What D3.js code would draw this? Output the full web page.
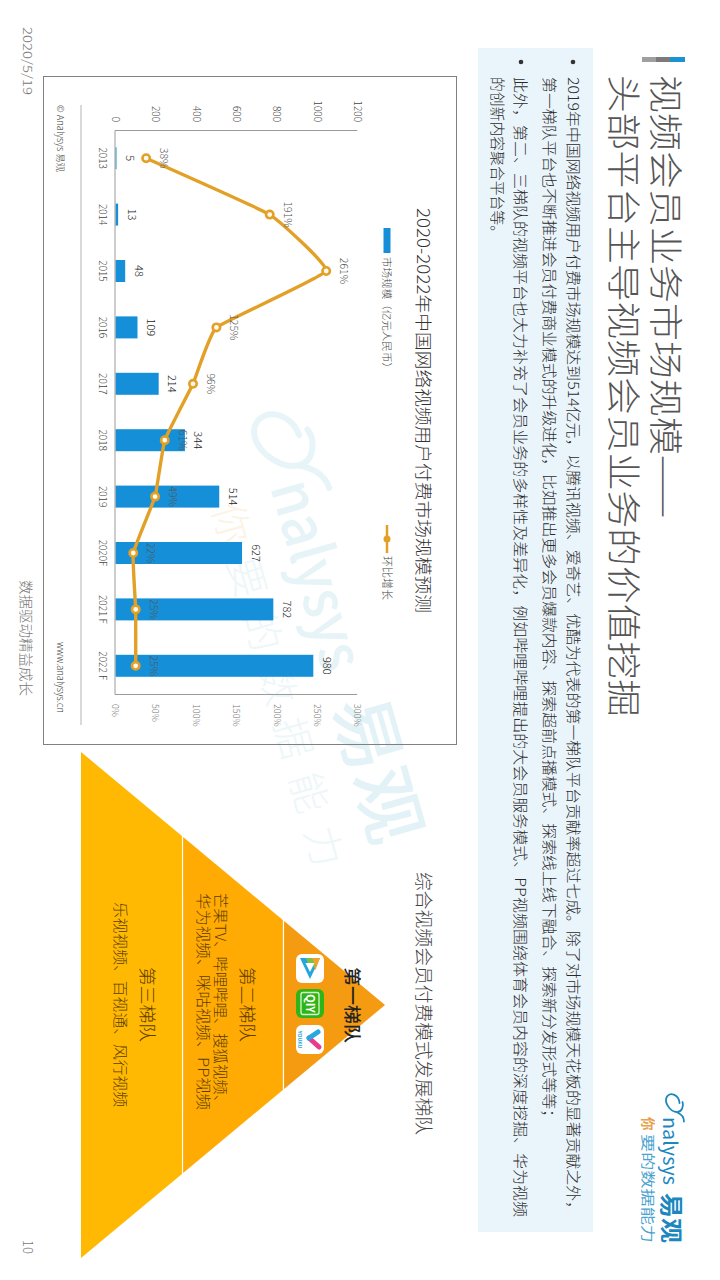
<!DOCTYPE html>
<html><head><meta charset="utf-8">
<script src="https://cdn.jsdelivr.net/npm/d3@7"></script>
<style>html,body{margin:0;padding:0;background:#fff}svg{display:block}
text{font-family:"Noto Sans CJK SC","Noto Sans",sans-serif;font-weight:300}</style>
</head><body><svg id="c" width="720" height="1280"></svg>
<script>
const categories=["2013","2014","2015","2016","2017","2018","2019","2020F","2021 F","2022 F"];
const marketSize=[5,13,48,109,214,344,514,627,782,980];
const growthPct=[38,191,261,125,96,61,49,22,25,25];
const growthLabels=["38%","191%","261%","125%","96%","61%","49%","22%","25%","25%"];
const leftTicks=[0,200,400,600,800,1000,1200];
const rightTicks=[0,50,100,150,200,250,300];
const titleLines=["视频会员业务市场规模——","头部平台主导视频会员业务的价值挖掘"];
const bulletLines=[
"2019年中国网络视频用户付费市场规模达到514亿元，以腾讯视频、爱奇艺、优酷为代表的第一梯队平台贡献率超过七成。除了对市场规模天花板的显著贡献之外，",
"第一梯队平台也不断推进会员付费商业模式的升级进化，比如推出更多会员爆款内容、探索超前点播模式、探索线上线下融合、探索新分发形式等等；",
"此外，第二、三梯队的视频平台也大力补充了会员业务的多样性及差异化，例如哔哩哔哩提出的大会员服务模式、PP视频围绕体育会员内容的深度挖掘、华为视频",
"的创新内容聚合平台等。"];
const tierNames=["第一梯队","第二梯队","第三梯队"];
const tierColors=["#f59b12","#ffab03","#ffb902"];

const svg=d3.select("#c");
const root=svg.append("g").attr("transform","translate(720,0) rotate(90)");
function T(g,x,y,s,size,fill,opt={}){
  const t=g.append("text").attr("x",x).attr("y",y).attr("font-size",size).attr("fill",fill).text(s);
  if(opt.anchor)t.attr("text-anchor",opt.anchor);
  if(opt.len)t.attr("textLength",opt.len).attr("lengthAdjust","spacingAndGlyphs");
  if(opt.weight)t.style("font-weight",opt.weight);
  return t;
}
function swoosh(g,cx,cy,s,col,sw,rot){
  g.append("path").attr("transform",`translate(${cx},${cy}) rotate(${rot}) scale(${s})`)
   .attr("d","M-0.1,-0.55 C-0.9,-0.5 -1.25,0.35 -0.75,0.7 C-0.2,1.05 0.75,0.4 0.8,-0.25 C0.85,-0.8 0.2,-1.0 -0.2,-0.85 M0.8,-0.25 C1.05,-0.85 1.5,-1.0 1.75,-1.0")
   .attr("fill","none").attr("stroke",col).attr("stroke-width",sw/s).attr("stroke-linecap","round");
}
/* accent + title */
root.append("rect").attr("x",57).attr("y",35).attr("width",5).attr("height",15).attr("fill","#1c92d2");
root.append("rect").attr("x",57).attr("y",50).attr("width",5).attr("height",14).attr("fill","#7b7b7b");
root.append("rect").attr("x",57).attr("y",64).attr("width",5).attr("height",14).attr("fill","#9f9f9f");
T(root,75,67,titleLines[0],34.5,"#555",{len:443});
T(root,75,109,titleLines[1],34.5,"#555",{len:642});
/* panel */
root.append("rect").attr("x",48).attr("y",127).attr("width",1184).attr("height",115).attr("fill","#eaf5fb");
[147,199].forEach(v=>root.append("circle").attr("cx",62).attr("cy",v).attr("r",2.3).attr("fill","#333"));
const lineV=[152,176,205,228], lineU=[[77,1217],[77,1125],[77,1217],[77,240]];
bulletLines.forEach((s,i)=>T(root,lineU[i][0],lineV[i],s,14.5,"#2a2a2a",{len:lineU[i][1]-lineU[i][0]}));

/* watermark */
const wm=root.append("g");
swoosh(wm,443,437,32,"#e8f5f8",6,-16);
T(wm,0,0,"nalysys",60,"#e6f3f7",{len:195,weight:500}).attr("transform","translate(487,450) rotate(-16)");
T(wm,0,0,"易观",70,"#e3f2f6",{weight:500,len:150}).attr("transform","translate(704,387) rotate(-16)");
const tag=T(wm,0,0,"",40,"#edf6f9",{}).attr("transform","translate(508,508) rotate(-16)");
tag.append("tspan").attr("fill","#fcf3e6").text("你");
tag.append("tspan").text("要的数据能力");
tag.attr("textLength",376).attr("lengthAdjust","spacing");

/* chart frame */
root.append("rect").attr("x",76.5).attr("y",263.5).attr("width",668).attr("height",413).attr("fill","none").attr("stroke","#808080");
T(root,208,303,"2020-2022年中国网络视频用户付费市场规模预测",17,"#333",{len:405});

const x=d3.scaleBand().domain(categories).range([130,694]).paddingInner(0.61).paddingOuter(0.305);
const yL=d3.scaleLinear().domain([0,1200]).range([604.5,362.3]);
const yR=d3.scaleLinear().domain([0,300]).range([604.5,362.3]);
const chart=root.append("g");
chart.selectAll("rect.b").data(marketSize).join("rect").attr("class","b")
 .attr("x",(d,i)=>x(categories[i])).attr("width",x.bandwidth())
 .attr("y",d=>yL(d)).attr("height",d=>yL(0)-yL(d)).attr("fill","#1590d8");
const axL=chart.append("g").attr("transform","translate(130,0)").call(d3.axisLeft(yL).tickValues(leftTicks).tickFormat(d3.format("d")).tickSize(0).tickPadding(8));
const axR=chart.append("g").attr("transform","translate(694,0)").call(d3.axisRight(yR).tickValues(rightTicks).tickFormat(d=>d+"%").tickSize(0).tickPadding(10));
const axB=chart.append("g").attr("transform","translate(0,604.5)").call(d3.axisBottom(x).tickSize(0).tickPadding(9));
[axL,axR,axB].forEach(a=>{a.select(".domain").attr("stroke","#9a9a9a").attr("stroke-width",1);});
axL.selectAll("text").attr("font-size",10).attr("fill","#444").style("font-family",'"Noto Sans CJK SC"');
axR.selectAll("text").attr("font-size",9).attr("fill","#777").style("font-family",'"Noto Sans CJK SC"');
axB.selectAll("text").attr("font-size",10).attr("fill","#444").style("font-family",'"Noto Sans CJK SC"');
chart.selectAll("text.v").data(marketSize).join("text").attr("class","v")
 .attr("x",(d,i)=>x(categories[i])+x.bandwidth()/2).attr("y",d=>yL(d)-9.5)
 .attr("text-anchor","middle").attr("font-size",11).attr("fill","#222").text(d=>d);
const line=d3.line().x((d,i)=>x(categories[i])+x.bandwidth()/2).y(d=>yR(d)).curve(d3.curveCardinal.tension(0.7));
chart.append("path").datum(growthPct).attr("d",line).attr("fill","none").attr("stroke","#e3a027").attr("stroke-width",3.4);
chart.selectAll("circle.m").data(growthPct).join("circle").attr("class","m")
 .attr("cx",(d,i)=>x(categories[i])+x.bandwidth()/2).attr("cy",d=>yR(d)).attr("r",3.7)
 .attr("fill","#fffaf0").attr("stroke","#e3a027").attr("stroke-width",2.6);
chart.selectAll("text.p").data(growthPct).join("text").attr("class","p")
 .attr("x",(d,i)=>x(categories[i])+x.bandwidth()/2).attr("y",d=>yR(d)-14)
 .attr("text-anchor","middle").attr("font-size",10.5).attr("fill","#555").text((d,i)=>growthLabels[i]);
/* legend */
root.append("rect").attr("x",228).attr("y",329.5).attr("width",25).attr("height",7).attr("fill","#1590d8");
T(root,257,337,"市场规模（亿元人民币）",10.5,"#444",{len:116});
root.append("line").attr("x1",525).attr("x2",553).attr("y1",333).attr("y2",333).attr("stroke","#e3a027").attr("stroke-width",2.5);
root.append("circle").attr("cx",539).attr("cy",333).attr("r",3.5).attr("fill","#e3a027");
T(root,556,337,"环比增长",11,"#444",{len:44});
/* footer of chart */
root.append("line").attr("x1",105).attr("x2",725).attr("y1",639).attr("y2",639).attr("stroke","#b5b5b5");
T(root,105,663,"© Analysys 易观",9.5,"#444",{len:67});
T(root,642,663,"www.analysys.cn",9.5,"#444",{len:71});

/* pyramid */
T(root,872,303,"综合视频会员付费模式发展梯队",18,"#444",{len:263});
const px=d3.scaleLinear().domain([0,1]).range([720-385,720-81]);
const tri=[[0,0.332],[0.336,0.664],[0.668,1]];
tri.forEach((t,i)=>{
  const hw=f=>f*253;
  const pts=[[1005-hw(t[0]),px(t[0])],[1005+hw(t[0]),px(t[0])],[1005+hw(t[1]),px(t[1])],[1005-hw(t[1]),px(t[1])]];
  root.append("polygon").attr("points",pts.map(p=>p.join(",")).join(" ")).attr("fill",tierColors[i]);
});
T(root,967,720-352+6,tierNames[0],17.5,"#222",{len:76,weight:500});
T(root,967,720-247+6,tierNames[1],17,"#5a3c00",{len:75});
T(root,967,720-147+6,tierNames[2],17,"#5a3c00",{len:75});
T(root,893,720-220+5,"芒果TV、哔哩哔哩、搜狐视频、",14.5,"#5a3c00",{len:217});
T(root,893,720-203+5,"华为视频、咪咕视频、PP视频",14.5,"#5a3c00",{len:217});
T(root,902,720-120+5,"乐视视频、百视通、风行视频",14.5,"#5a3c00",{len:205});
/* icons */
const ic=root.append("g");
ic.append("rect").attr("x",954).attr("y",396).attr("width",29).attr("height",28).attr("rx",6).attr("fill","#fff");
ic.append("path").attr("d","M958,400 L958,420 L979,410Z").attr("fill","#23a6dc");
ic.append("path").attr("d","M958,400 L970,404.5 L958,410Z").attr("fill","#f1a22c");
ic.append("path").attr("d","M958,408 L966,404 L966,411 L958,414Z").attr("fill","#7cc242");
ic.append("path").attr("d","M963,405.5 L963,414.5 L972,410Z").attr("fill","#fff");
ic.append("rect").attr("x",989).attr("y",396).attr("width",29).attr("height",28).attr("rx",6).attr("fill","#2fb516");
ic.append("rect").attr("x",992.5).attr("y",401).attr("width",22).attr("height",18).attr("rx",2).attr("fill","none").attr("stroke","#d9f5d0").attr("stroke-width",1.3);
ic.append("text").attr("x",1003.5).attr("y",414.5).attr("text-anchor","middle").attr("font-size",11).attr("fill","#fff").style("font-weight",700).text("QIY");
ic.append("rect").attr("x",1025).attr("y",396).attr("width",29).attr("height",28).attr("rx",6).attr("fill","#fff");
ic.append("path").attr("d","M1038,411 L1047,401").attr("fill","none").attr("stroke","#e93a8c").attr("stroke-width",5).attr("stroke-linecap","round");
ic.append("path").attr("d","M1032,402 L1038,411").attr("fill","none").attr("stroke","#27a9e0").attr("stroke-width",5).attr("stroke-linecap","round");
ic.append("text").attr("x",1039.5).attr("y",422).attr("text-anchor","middle").attr("font-size",5).attr("fill","#27a9e0").style("font-weight",700).text("YOUKU");

/* logo */
swoosh(root,1104,46,10,"#1c87bf",1.8,0);
T(root,1117,57,"nalysys",19,"#1c87bf",{len:68,weight:400});
T(root,1193,57,"易观",23,"#1c87bf",{len:50,weight:700});
T(root,1117,77,"你",13.5,"#e8a04a",{weight:700});
T(root,1134,77,"要的数据能力",13.5,"#4aa3cf",{len:109,weight:400});
/* page footer */
T(root,27,697,"2020/5/19",12.5,"#777",{len:68});
T(root,580,699,"数据驱动精益成长",14,"#777",{len:116});
T(root,1240,697,"10",13,"#777");
</script></body></html>
